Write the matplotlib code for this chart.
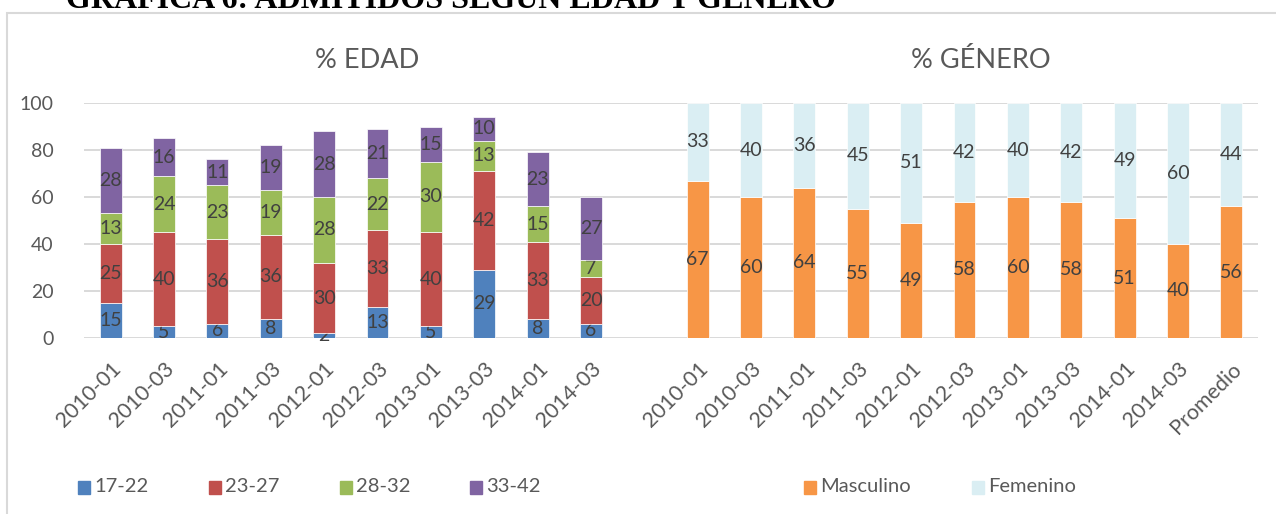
import numpy as np
import matplotlib
matplotlib.use("Agg")
import matplotlib.pyplot as plt
from matplotlib.patches import Rectangle

periods = ["2010-01", "2010-03", "2011-01", "2011-03", "2012-01",
           "2012-03", "2013-01", "2013-03", "2014-01", "2014-03"]
gender_cats = periods + ["Promedio"]

age_groups = ["17-22", "23-27", "28-32", "33-42"]
age_17_22 = [15, 5, 6, 8, 2, 13, 5, 29, 8, 6]
age_23_27 = [25, 40, 36, 36, 30, 33, 40, 42, 33, 20]
age_28_32 = [13, 24, 23, 19, 28, 22, 30, 13, 15, 7]
age_33_42 = [28, 16, 11, 19, 28, 21, 15, 10, 23, 27]

masculino = [67, 60, 64, 55, 49, 58, 60, 58, 51, 40, 56]
femenino = [33, 40, 36, 45, 51, 42, 40, 42, 49, 60, 44]

age_colors = ["#4F81BD", "#C0504D", "#9BBB59", "#8064A2"]
gen_colors = ["#F79646", "#DAEEF3"]
label_color = "#404040"
tick_color = "#595959"

plt.rcParams["font.family"] = ["Lato", "DejaVu Sans"]

W, H = 1276, 514
fig = plt.figure(figsize=(W / 100, H / 100), dpi=100)
ax = fig.add_axes([84 / W, 1 - 338 / H, (1258 - 84) / W, (338 - 103) / H])

x_age = np.arange(len(periods))
x_gen = np.arange(len(gender_cats)) + len(periods) + 1
bw = 0.41

bottom = np.zeros(len(periods))
for vals, col in zip([age_17_22, age_23_27, age_28_32, age_33_42], age_colors):
    bars = ax.bar(x_age, vals, bw, bottom=bottom, color=col,
                  edgecolor="white", linewidth=0.5, zorder=3)
    ax.bar_label(bars, label_type="center", fontsize=14, color=label_color)
    bottom += np.array(vals)

bottom = np.zeros(len(gender_cats))
for vals, col in zip([masculino, femenino], gen_colors):
    bars = ax.bar(x_gen, vals, bw, bottom=bottom, color=col,
                  edgecolor="white", linewidth=0.5, zorder=3)
    ax.bar_label(bars, label_type="center", fontsize=14, color=label_color)
    bottom += np.array(vals)

ax.set_xlim(-0.5, len(periods) + len(gender_cats) + 0.5)
ax.set_ylim(0, 100)
ax.set_yticks(range(0, 101, 20))
ax.yaxis.grid(True, color="#D9D9D9", linewidth=1.4, zorder=0)
ax.set_axisbelow(True)
for s in ax.spines.values():
    s.set_visible(False)
ax.tick_params(axis="both", length=0, labelsize=14, colors=tick_color)
ax.tick_params(axis="y", pad=22)

ax.set_xticks(list(x_age) + list(x_gen))
ax.set_xticklabels(periods + gender_cats, rotation=45, ha="right",
                   va="top", rotation_mode="anchor", fontsize=15.5)
ax.tick_params(axis="x", pad=15)

# titles
fig.text(367 / W, 1 - 60 / H, "% EDAD", ha="center", va="center",
         fontsize=19.5, color=tick_color)
fig.text(981 / W, 1 - 60 / H, "% GÉNERO", ha="center", va="center",
         fontsize=19.5, color=tick_color)

# legend
leg_items = list(zip(age_groups + ["Masculino", "Femenino"],
                     age_colors + gen_colors,
                     [78, 209, 340, 470, 804, 972]))
for name, col, xp in leg_items:
    fig.add_artist(Rectangle((xp / W, 1 - 494 / H), 12 / W, 13 / H,
                             transform=fig.transFigure, color=col))
    fig.text((xp + 16) / W, 1 - 487 / H, name, ha="left", va="center",
             fontsize=14.5, color=tick_color)

# chart border
fig.add_artist(Rectangle((7 / W, -0.1), 1.2, 1.1 - 13 / H,
                         transform=fig.transFigure, fill=False,
                         edgecolor="#D9D9D9", linewidth=1.5))

# clipped document heading
fig.text(66 / W, 1 - 8 / H, "GRÁFICA 6: ADMITIDOS SEGÚN EDAD Y GÉNERO",
         ha="left", va="baseline", fontsize=23, fontweight="bold",
         family="Liberation Serif", color="black")

fig.savefig("out.png", dpi=100)
